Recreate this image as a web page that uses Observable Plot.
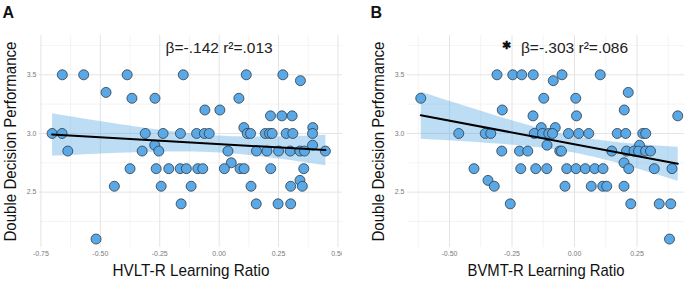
<!DOCTYPE html>
<html>
<head>
<meta charset="utf-8">
<script src="https://cdn.jsdelivr.net/npm/d3@7"></script>
<script src="https://cdn.jsdelivr.net/npm/@observablehq/plot@0.6"></script>
<style>
  html, body { margin: 0; padding: 0; background: #fff; }
  #wrap { display: flex; width: 684px; height: 288px; }
  svg { font-family: "Liberation Sans", Arial, sans-serif; }
</style>
</head>
<body>
<div id="wrap"></div>
<script>
// Panel A: HVLT-R learning ratio vs Double Decision performance
const hvltX = [-0.660,-0.570,-0.387,-0.151,0.114,0.268,0.342,-0.476,-0.367,-0.270,0.083,-0.060,0.003,0.216,0.264,0.307,0.104,0.394,
  -0.703,-0.661,-0.311,-0.236,-0.163,-0.095,-0.062,-0.042,0.118,0.132,0.194,0.212,0.223,0.282,0.310,0.393,
  -0.271,0.393,
  -0.637,-0.324,-0.254,0.037,0.157,0.201,0.250,0.299,0.340,0.359,0.447,
  0.051,
  -0.375,-0.265,-0.212,-0.164,-0.138,-0.090,-0.069,0.022,0.088,0.105,0.217,0.356,
  0.340,
  -0.441,-0.244,-0.118,0.134,0.301,0.350,
  -0.160,0.156,0.248,0.301,
  -0.518];
const hvltY = [3.5,3.5,3.5,3.5,3.5,3.5,3.45,3.35,3.3,3.3,3.3,3.2,3.2,3.15,3.15,3.15,3.05,3.05,
  3.0,3.0,3.0,3.0,3.0,3.0,3.0,3.0,3.0,3.0,3.0,3.0,3.0,3.0,3.0,3.0,
  2.9,2.9,
  2.85,2.85,2.85,2.85,2.85,2.85,2.85,2.85,2.85,2.85,2.85,
  2.75,
  2.7,2.7,2.7,2.7,2.7,2.7,2.7,2.7,2.7,2.7,2.7,2.7,
  2.6,
  2.55,2.55,2.55,2.55,2.55,2.55,
  2.4,2.4,2.4,2.4,
  2.1];

// Panel B: BVMT-R learning ratio vs Double Decision performance
const bvmtX = [-0.310,-0.247,-0.211,-0.165,-0.050,0.103,-0.085,0.215,-0.615,-0.123,0.005,-0.289,0.199,-0.166,0.008,0.413,-0.133,-0.077,
  -0.463,-0.357,-0.335,-0.161,-0.128,-0.103,-0.088,-0.024,0.017,0.057,0.171,0.205,0.273,0.285,
  -0.110,0.260,
  -0.291,-0.220,-0.187,-0.059,-0.052,0.149,0.208,0.238,0.256,0.284,0.304,
  0.198,
  -0.402,-0.215,-0.155,-0.111,-0.031,0.006,0.043,0.081,0.114,0.217,0.319,0.390,
  -0.346,
  -0.321,-0.038,0.067,0.113,0.129,0.198,
  -0.257,0.225,0.339,0.385,
  0.380];
const bvmtY = [3.5,3.5,3.5,3.5,3.5,3.5,3.45,3.35,3.3,3.3,3.3,3.2,3.2,3.15,3.15,3.15,3.05,3.05,
  3.0,3.0,3.0,3.0,3.0,3.0,3.0,3.0,3.0,3.0,3.0,3.0,3.0,3.0,
  2.9,2.9,
  2.85,2.85,2.85,2.85,2.85,2.85,2.85,2.85,2.85,2.85,2.85,
  2.75,
  2.7,2.7,2.7,2.7,2.7,2.7,2.7,2.7,2.7,2.7,2.7,2.7,
  2.6,
  2.55,2.55,2.55,2.55,2.55,2.55,
  2.4,2.4,2.4,2.4,
  2.1];

const ticksAX = [-0.75, -0.5, -0.25, 0, 0.25, 0.5];
const minorAX = [-0.625, -0.375, -0.125, 0.125, 0.375];
const ticksBX = [-0.5, -0.25, 0, 0.25];
const minorBX = [-0.625, -0.375, -0.125, 0.125, 0.375];
const ticksY = [2.5, 3.0, 3.5];
const minorY = [2.25, 2.75, 3.25, 3.75];

const yLabel = "Double Decision Performance";
const xLabelA = "HVLT-R Learning Ratio";
const xLabelB = "BVMT-R Learning Ratio";
const statA = "β=-.142 r²=.013";
const statB = "β=-.303 r²=.086";

const pointFill = "#5aa9e6";
const bandFill = "#5aa9e6";

function panel({xs, ys, ticksX, minorX, xDomain, marginLeft, xLabel, stat, star, letter, letterX}) {
  const data = xs.map((x, i) => ({x, y: ys[i]}));
  const fmtX = d => d.toFixed(2);
  const fmtY = d => d.toFixed(1);
  const svg = Plot.plot({
    width: 342,
    height: 288,
    marginLeft,
    marginRight: 0,
    marginTop: 35,
    marginBottom: 41,
    x: {domain: xDomain},
    y: {domain: [2.028, 3.835]},
    style: {fontFamily: "'Liberation Sans', Arial, sans-serif", background: "#fff", overflow: "visible"},
    marks: [
      Plot.gridY(minorY, {stroke: "#ececec", strokeOpacity: 1, strokeWidth: 0.6}),
      Plot.gridX(minorX, {stroke: "#ececec", strokeOpacity: 1, strokeWidth: 0.6}),
      Plot.gridY(ticksY, {stroke: "#e4e4e4", strokeOpacity: 1, strokeWidth: 1}),
      Plot.gridX(ticksX, {stroke: "#e4e4e4", strokeOpacity: 1, strokeWidth: 1}),
      Plot.axisX(ticksX, {tickSize: 0, tickPadding: 4, tickFormat: fmtX, fontSize: 7, fill: "#7a7a7a", label: null}),
      Plot.axisY(ticksY, {tickSize: 0, tickPadding: 3, tickFormat: fmtY, fontSize: 7, fill: "#7a7a7a", label: null}),
      Plot.linearRegressionY(data, {x: "x", y: "y", ci: 0.95, fill: bandFill, fillOpacity: 0.4, stroke: null}),
      Plot.dot(data, {x: "x", y: "y", r: 5, fill: pointFill, stroke: "#2f3a45", strokeWidth: 0.8}),
      Plot.linearRegressionY(data, {x: "x", y: "y", ci: 0, stroke: "#000", strokeWidth: 2}),
      Plot.text([stat], {x: 0, y: 3.835, dy: 13, fontSize: 15.5, fill: "#222", lineAnchor: "middle"}),
      ...(star ? [Plot.text(["✱"], {x: 0, y: 3.835, dy: 10, dx: -68, fontSize: 11, fill: "#111", fontWeight: "bold"})] : []),
      Plot.text([xLabel], {frameAnchor: "bottom", dy: 28, fontSize: 17, fill: "#111"}),
      Plot.text([yLabel], {frameAnchor: "left", rotate: -90, textAnchor: "start", dx: -29, dy: 100, fontSize: 17, fill: "#111"}),
      Plot.text([letter], {frameAnchor: "top-left", dx: -marginLeft + letterX, dy: -29, fontSize: 16, fontWeight: "bold", fill: "#111"})
    ]
  });
  d3.select(svg).selectAll("text").each(function() {
    const t = this.textContent;
    if (t === yLabel) d3.select(this).attr("textLength", 200).attr("lengthAdjust", "spacingAndGlyphs");
    if (t === xLabel) d3.select(this).attr("textLength", 157).attr("lengthAdjust", "spacingAndGlyphs");
  });
  return svg;
}

const wrap = document.getElementById("wrap");
wrap.append(panel({xs: hvltX, ys: hvltY, ticksX: ticksAX, minorX: minorAX, xDomain: [-0.756, 0.519], marginLeft: 39, xLabel: xLabelA, stat: statA, star: false, letter: "A", letterX: 2}));
wrap.append(panel({xs: bvmtX, ys: bvmtY, ticksX: ticksBX, minorX: minorBX, xDomain: [-0.668, 0.44], marginLeft: 65, xLabel: xLabelB, stat: statB, star: true, letter: "B", letterX: 28}));
</script>
</body>
</html>
